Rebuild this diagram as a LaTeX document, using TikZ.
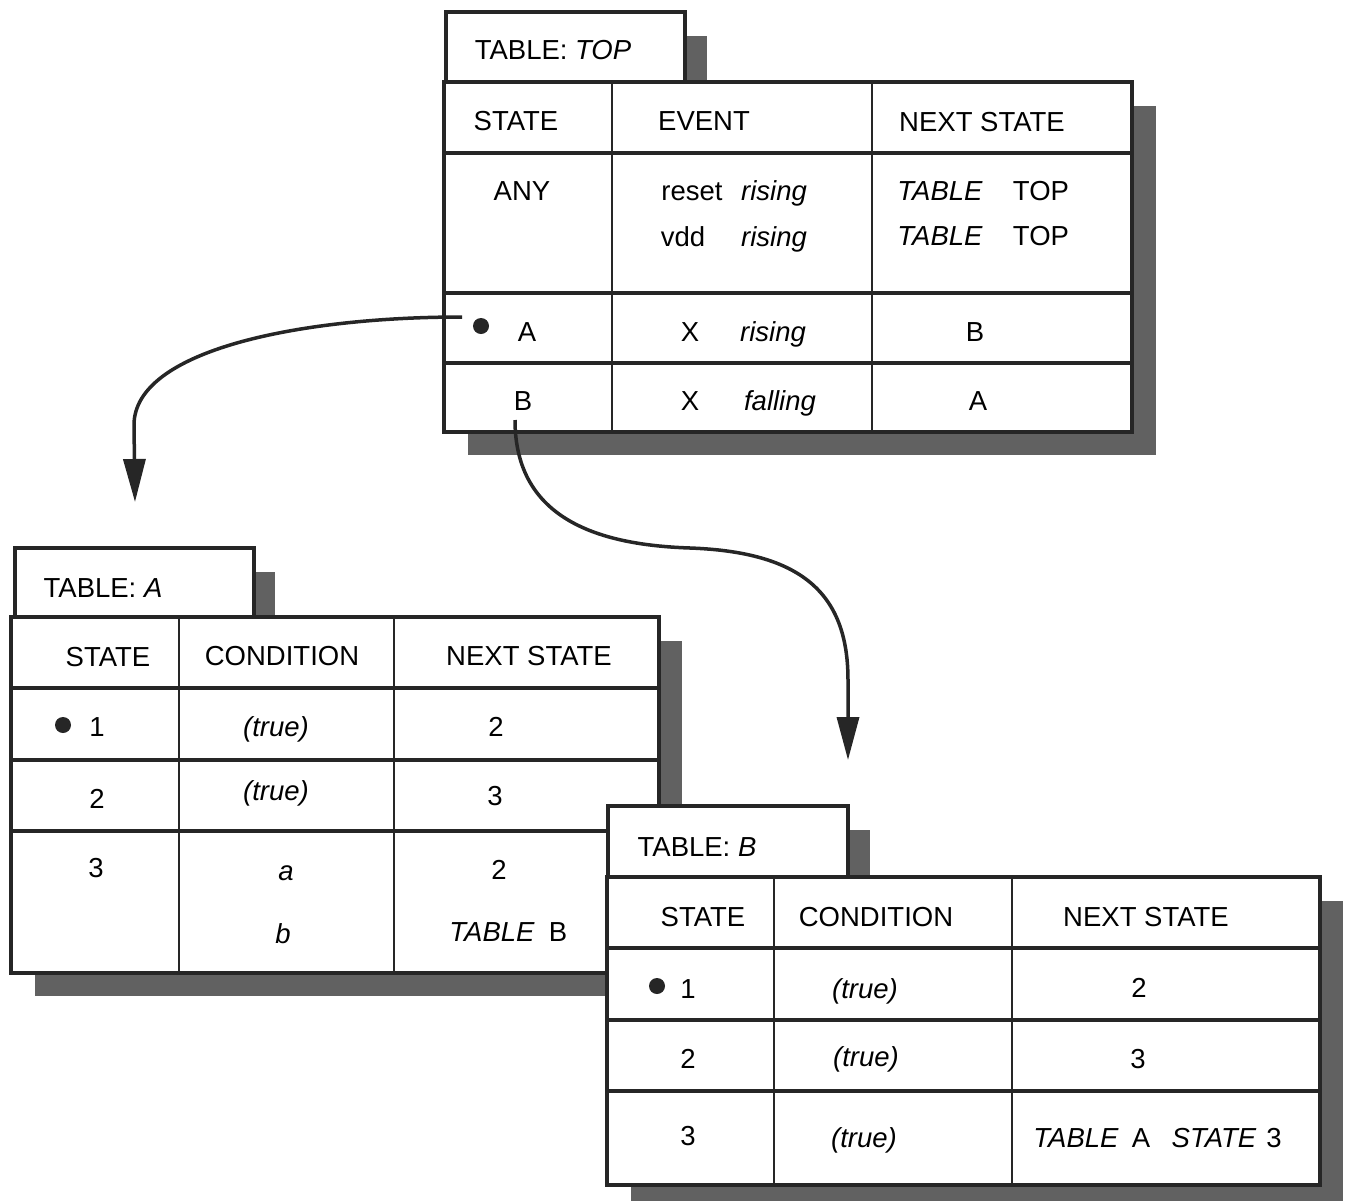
\documentclass[tikz,border=0pt]{standalone}
\usepackage{fontspec}
\setmainfont{Liberation Sans}
\usetikzlibrary{arrows.meta}
\begin{document}
\begin{tikzpicture}[x=1pt,y=-1pt,
  txt/.style={inner sep=0pt, anchor=base, font=\fontsize{27.5}{32}\selectfont},
  frame/.style={draw=black!85, line width=4pt, fill=white},
  rowline/.style={draw=black!85, line width=3.5pt},
  colline/.style={draw=black!85, line width=2pt},
  shade/.style={fill=black!62, draw=none},
  bul/.style={circle, fill=black!85, inner sep=0pt, minimum size=16pt},
  link/.style={draw=black!85, line width=3.5pt, -{Triangle[length=43pt,width=22pt]}}
]
\useasboundingbox (0,0) rectangle (1345,1203);

% ---------------- TABLE TOP ----------------
\fill[shade] (468,36) rectangle (707,82);
\fill[shade] (468,106) rectangle (1156,455);
\draw[frame] (446,12) rectangle (685,82);
\draw[frame] (444,82) rectangle (1132,432);
\draw[colline] (612,82) -- (612,432);
\draw[colline] (872,82) -- (872,432);
\draw[rowline] (444,153) -- (1132,153);
\draw[rowline] (444,293) -- (1132,293);
\draw[rowline] (444,363) -- (1132,363);

\node[txt] (ttab) at (553,59) {TABLE: \textit{TOP}};
\node[txt] (th1) at (516,130) {STATE};
\node[txt] (th2) at (704,130) {EVENT};
\node[txt] (th3) at (982,131) {NEXT STATE};
\node[txt] (tany) at (522,200) {ANY};
\node[txt] (treset) at (692,200) {reset};
\node[txt] (tris1) at (774,200) {\itshape rising};
\node[txt] (tvdd) at (683,246) {vdd};
\node[txt] (tris2) at (774,246) {\itshape rising};
\node[txt] (ttab1) at (940,200) {\itshape TABLE};
\node[txt] (ttop1) at (1041,200) {TOP};
\node[txt] (ttab2) at (940,245) {\itshape TABLE};
\node[txt] (ttop2) at (1041,245) {TOP};
\node[bul] (tbul) at (481,326) {};
\node[txt] (tA) at (527,341) {A};
\node[txt] (tX1) at (690,341) {X};
\node[txt] (tris3) at (773,341) {\itshape rising};
\node[txt] (tB) at (975,341) {B};
\node[txt] (tB2) at (523,410) {B};
\node[txt] (tX2) at (690,410) {X};
\node[txt] (tfal) at (780,410) {\itshape falling};
\node[txt] (tA2) at (978,410) {A};

% ---------------- TABLE A ----------------
\fill[shade] (39,572) rectangle (275,617);
\fill[shade] (35,641) rectangle (682,996);
\draw[frame] (15,548) rectangle (254,617);
\draw[frame] (11,617) rectangle (659,973);
\draw[colline] (179,617) -- (179,973);
\draw[colline] (394,617) -- (394,973);
\draw[rowline] (11,688) -- (659,688);
\draw[rowline] (11,760) -- (659,760);
\draw[rowline] (11,831) -- (659,831);

\node[txt] (atab) at (103,597) {TABLE: \textit{A}};
\node[txt] (ah1) at (108,666) {STATE};
\node[txt] (ah2) at (282,665) {CONDITION};
\node[txt] (ah3) at (529,665) {NEXT STATE};
\node[bul] (abul) at (63,725) {};
\node[txt] (a11) at (97,736) {1};
\node[txt] (a12) at (276,736) {\itshape (true)};
\node[txt] (a13) at (496,736) {2};
\node[txt] (a21) at (97,808) {2};
\node[txt] (a22) at (276,800) {\itshape (true)};
\node[txt] (a23) at (495,805) {3};
\node[txt] (a31) at (96,877) {3};
\node[txt] (a32) at (286,880) {\itshape a};
\node[txt] (a33) at (499,879) {2};
\node[txt] (a42) at (283,943) {\itshape b};
\node[txt] (a43) at (492,941) {\itshape TABLE};
\node[txt] (a44) at (558,941) {B};

% ---------------- TABLE B ----------------
\fill[shade] (632,830) rectangle (870,877);
\fill[shade] (631,901) rectangle (1343,1201);
\draw[frame] (608,806) rectangle (848,877);
\draw[frame] (607,877) rectangle (1320,1185);
\draw[colline] (774,877) -- (774,1185);
\draw[colline] (1012,877) -- (1012,1185);
\draw[rowline] (607,948) -- (1320,948);
\draw[rowline] (607,1020) -- (1320,1020);
\draw[rowline] (607,1091) -- (1320,1091);

\node[txt] (btab) at (697,856) {TABLE: \textit{B}};
\node[txt] (bh1) at (703,926) {STATE};
\node[txt] (bh2) at (876,926) {CONDITION};
\node[txt] (bh3) at (1146,926) {NEXT STATE};
\node[bul] (bbul) at (657,986) {};
\node[txt] (b11) at (688,998) {1};
\node[txt] (b12) at (865,998) {\itshape (true)};
\node[txt] (b13) at (1139,997) {2};
\node[txt] (b21) at (688,1068) {2};
\node[txt] (b22) at (866,1066) {\itshape (true)};
\node[txt] (b23) at (1138,1068) {3};
\node[txt] (b31) at (688,1145) {3};
\node[txt] (b32) at (864,1147) {\itshape (true)};
\node[txt] (b33) at (1076,1147) {\itshape TABLE};
\node[txt] (b34) at (1141,1147) {A};
\node[txt] (b35) at (1214,1147) {\itshape STATE};
\node[txt] (b36) at (1274,1147) {3};

% ---------------- connectors ----------------
\coordinate (s1) at (462,317);
\coordinate (e1) at (135,502);
\coordinate (s2) at (515,420);
\coordinate (e2) at (848,760);
\draw[link] (s1) .. controls (300,317) and (134,350) .. (134,425) -- (e1);
\draw[link] (s2) .. controls (515,520) and (600,545) .. (690,548)
  .. controls (800,552) and (848,592) .. (848,680) -- (e2);
\end{tikzpicture}
\end{document}
